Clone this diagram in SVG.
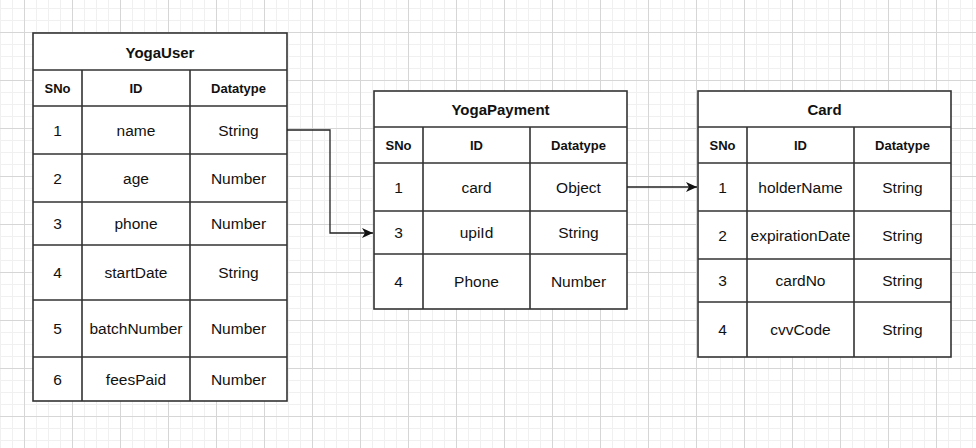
<svg xmlns="http://www.w3.org/2000/svg" width="976" height="448" viewBox="0 0 976 448">
<defs>
<pattern id="minor" width="12" height="12" patternUnits="userSpaceOnUse" x="0" y="8">
<path d="M0,0.5 H12 M0.5,0 V12" fill="none" stroke="#f0f0f0" stroke-width="1"/>
</pattern>
<pattern id="major" width="48" height="48" patternUnits="userSpaceOnUse" x="24" y="32">
<path d="M0,0.5 H48 M0.5,0 V48" fill="none" stroke="#d6d6d6" stroke-width="1"/>
</pattern>
<marker id="arr" viewBox="0 0 11 10" markerWidth="11" markerHeight="10" refX="11" refY="5" orient="auto" markerUnits="userSpaceOnUse">
<path d="M0,0 L11,5 L0,10 L3,5 Z" fill="#111"/>
</marker>
</defs>
<style>
.tb{fill:#fff;stroke:#333;stroke-width:1.6}
.ln{stroke:#333;stroke-width:1.6;fill:none}
.t{font-family:"Liberation Sans",Arial,sans-serif;text-anchor:middle;fill:#111}
.title{font-size:15px;font-weight:bold}
.hd{font-size:13px;font-weight:bold}
.v{font-size:15.5px}
.con{stroke:#222;stroke-width:1.3;fill:none}
</style>
<rect width="976" height="448" fill="#fff"/>
<rect width="976" height="448" fill="url(#minor)"/>
<rect width="976" height="448" fill="url(#major)"/>

<g id="YogaUser">
<rect class="tb" x="33" y="33" width="254" height="368"/>
<path class="ln" d="M33,70 H287 M33,106 H287 M33,154 H287 M33,202 H287 M33,245 H287 M33,300 H287 M33,357 H287 M82,70 V401 M190,70 V401"/>
<text class="t title" x="160" y="57.5">YogaUser</text>
<text class="t hd" x="57.5" y="92.5">SNo</text>
<text class="t hd" x="136" y="92.5">ID</text>
<text class="t hd" x="238.5" y="92.5">Datatype</text>
<text class="t v" x="57.5" y="135.5">1</text><text class="t v" x="136" y="135.5">name</text><text class="t v" x="238.5" y="135.5">String</text>
<text class="t v" x="57.5" y="183.5">2</text><text class="t v" x="136" y="183.5">age</text><text class="t v" x="238.5" y="183.5">Number</text>
<text class="t v" x="57.5" y="229">3</text><text class="t v" x="136" y="229">phone</text><text class="t v" x="238.5" y="229">Number</text>
<text class="t v" x="57.5" y="277.5">4</text><text class="t v" x="136" y="277.5">startDate</text><text class="t v" x="238.5" y="277.5">String</text>
<text class="t v" x="57.5" y="334">5</text><text class="t v" x="136" y="334">batchNumber</text><text class="t v" x="238.5" y="334">Number</text>
<text class="t v" x="57.5" y="384.5">6</text><text class="t v" x="136" y="384.5">feesPaid</text><text class="t v" x="238.5" y="384.5">Number</text>
</g>

<g id="YogaPayment">
<rect class="tb" x="374" y="91" width="253" height="218"/>
<path class="ln" d="M374,127 H627 M374,163 H627 M374,211 H627 M374,254 H627 M423,127 V309 M530,127 V309"/>
<text class="t title" x="500.5" y="114.5">YogaPayment</text>
<text class="t hd" x="398.5" y="150">SNo</text>
<text class="t hd" x="476.5" y="150">ID</text>
<text class="t hd" x="578.5" y="150">Datatype</text>
<text class="t v" x="398.5" y="192.5">1</text><text class="t v" x="476.5" y="192.5">card</text><text class="t v" x="578.5" y="192.5">Object</text>
<text class="t v" x="398.5" y="238">3</text><text class="t v" x="476.5" y="238">upiId</text><text class="t v" x="578.5" y="238">String</text>
<text class="t v" x="398.5" y="287">4</text><text class="t v" x="476.5" y="287">Phone</text><text class="t v" x="578.5" y="287">Number</text>
</g>

<g id="Card">
<rect class="tb" x="698" y="91" width="253" height="266"/>
<path class="ln" d="M698,127 H951 M698,163 H951 M698,211 H951 M698,259 H951 M698,302 H951 M747,127 V357 M854,127 V357"/>
<text class="t title" x="824.5" y="114.5">Card</text>
<text class="t hd" x="722.5" y="150">SNo</text>
<text class="t hd" x="800.5" y="150">ID</text>
<text class="t hd" x="902.5" y="150">Datatype</text>
<text class="t v" x="722.5" y="192.5">1</text><text class="t v" x="800.5" y="192.5">holderName</text><text class="t v" x="902.5" y="192.5">String</text>
<text class="t v" x="722.5" y="240.5">2</text><text class="t v" x="800.5" y="240.5">expirationDate</text><text class="t v" x="902.5" y="240.5">String</text>
<text class="t v" x="722.5" y="286">3</text><text class="t v" x="800.5" y="286">cardNo</text><text class="t v" x="902.5" y="286">String</text>
<text class="t v" x="722.5" y="335">4</text><text class="t v" x="800.5" y="335">cvvCode</text><text class="t v" x="902.5" y="335">String</text>
</g>

<g id="connectors">
<path class="con" d="M287,130 H330 V233 H373" marker-end="url(#arr)"/>
<path class="con" d="M627,187 H697" marker-end="url(#arr)"/>
</g>
</svg>
